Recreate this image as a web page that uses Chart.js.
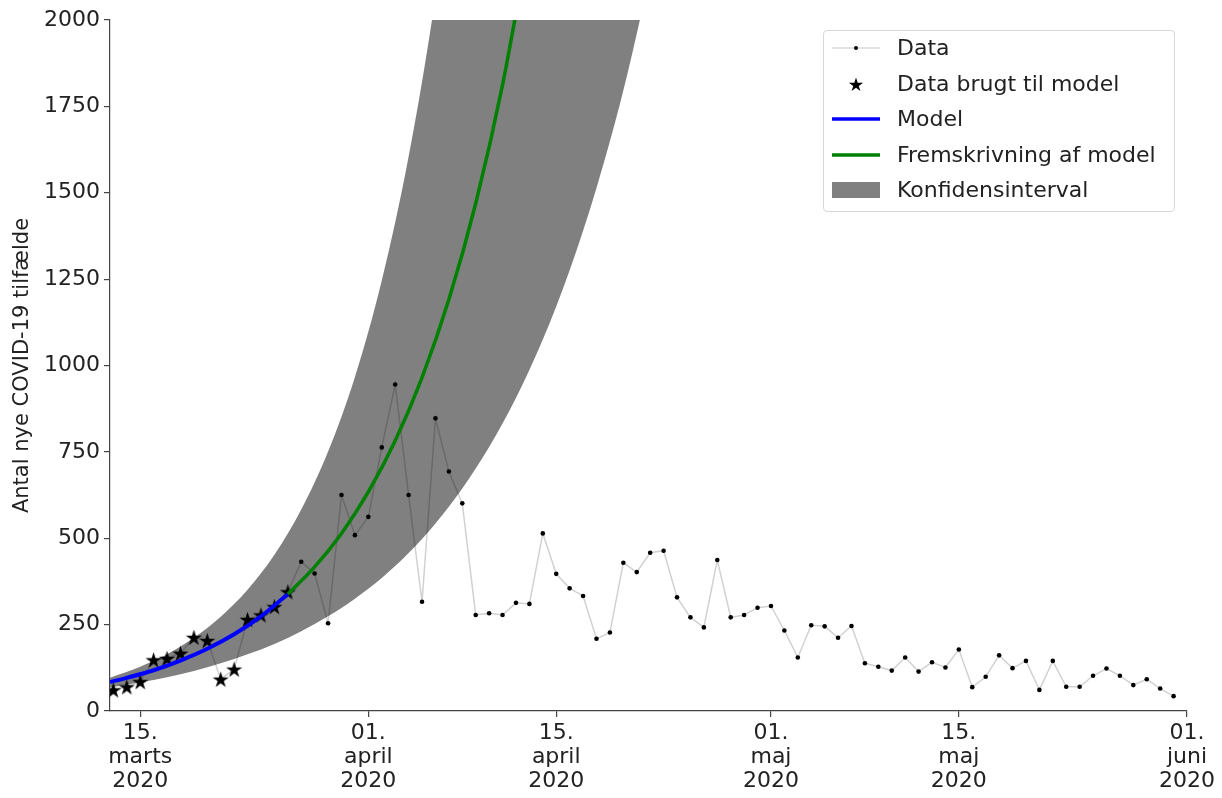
<!DOCTYPE html>
<html>
<head>
<meta charset="utf-8">
<script src="https://cdn.jsdelivr.net/npm/chart.js@4.4.0/dist/chart.umd.min.js"></script>
<style>
  body { margin: 0; background: #fff; }
  #wrap { position: relative; width: 1222px; height: 798px; }
  #legend {
    position: absolute; left: 823px; top: 30px; width: 352px; height: 182px;
    box-sizing: border-box; border: 1px solid #d8d8d8; border-radius: 4px;
    background: rgba(255,255,255,0.85);
    font-family: "DejaVu Sans"; font-size: 22px; color: #222;
  }
  .sw { position: absolute; left: 6px; }
  .lab { position: absolute; left: 73px; white-space: nowrap; line-height: 26px; }
</style>
</head>
<body>
<div id="wrap">
  <canvas id="chart" width="1222" height="798"></canvas>
  <div id="legend"></div>
</div>
<script>
// Daily new cases, 13 March .. 31 May 2020 (day 0 = 15 March)
const firstDay = -2;
const newCases = [
  61, 70, 85, 148, 152, 167, 213, 204, 92, 121, 265, 278, 302, 345, 432, 398, 254, 625, 509,
  562, 763, 945, 625, 316, 847, 693, 601, 278, 283, 278, 313, 310, 514, 397, 355, 333, 209,
  227, 429, 402, 458, 464, 329, 271, 242, 437, 271, 278, 299,
  304, 233, 155, 248, 245, 212, 246, 138, 128, 117, 155, 114, 141, 126, 178, 69, 99, 161,
  124, 145, 61, 145, 70, 70, 102, 123, 102, 75, 92, 65, 43
];
const usedForModel = 14; // 13.-26. marts

// fitted model (blue) and projection (green)
const modelDays = [-2.25, -1, 1, 3, 5, 7, 9, 11];
const modelVals = [84, 96, 118, 146, 180, 222, 274, 338];
const projDays  = [11, 13, 15, 17, 19, 21, 23, 25, 27, 29];
const projVals  = [338, 417, 514, 634, 782, 965, 1191, 1469, 1812, 2236];

// confidence band edges
const bandDays  = [-2.25, 0, 2, 4, 6, 8, 10, 12, 14, 16, 18, 20, 22, 24, 26, 28, 30, 32, 34, 36, 38];
const bandUpper = [96, 128, 164, 212, 273, 351, 452, 583, 751, 967, 1246, 1605, 2067, 2662, 3430, 4418, 5691, 7331, 9443, 12165, 15668];
const bandLower = [68, 83, 98, 116, 138, 164, 194, 231, 274, 325, 385, 457, 543, 644, 764, 906, 1075, 1276, 1514, 1796, 2131];

// x ticks
const tickDays   = [0, 17, 31, 47, 61, 78];
const tickDate   = ['15.', '01.', '15.', '01.', '15.', '01.'];
const tickMonth  = ['marts', 'april', 'april', 'maj', 'maj', 'juni'];
const tickYear   = '2020';

const FONT = 'DejaVu Sans';
const pts = (xs, ys) => xs.map((x, i) => ({ x, y: ys[i] }));

function starPath(ctx, cx, cy, R) {
  const r = R * 0.382;
  ctx.beginPath();
  for (let i = 0; i < 10; i++) {
    const a = -Math.PI / 2 + i * Math.PI / 5;
    const rad = i % 2 ? r : R;
    ctx.lineTo(cx + rad * Math.cos(a), cy + rad * Math.sin(a));
  }
  ctx.closePath();
}

function starCanvas(R) {
  const c = document.createElement('canvas');
  c.width = c.height = Math.ceil(R * 2 + 2);
  const g = c.getContext('2d');
  starPath(g, c.width / 2, c.height / 2 + R * 0.1, R);
  g.fillStyle = '#000';
  g.fill();
  return c;
}

const dataPts = newCases.map((v, i) => ({ x: firstDay + i, y: v }));

new Chart(document.getElementById('chart'), {
  type: 'line',
  data: {
    datasets: [
      { label: 'Model', data: pts(modelDays, modelVals), borderColor: '#0000ff', borderWidth: 4,
        pointRadius: 0, cubicInterpolationMode: 'monotone', fill: false },
      { label: 'Fremskrivning af model', data: pts(projDays, projVals), borderColor: '#008000', borderWidth: 3.5,
        pointRadius: 0, cubicInterpolationMode: 'monotone', fill: false },
      { label: 'Data brugt til model', data: dataPts.slice(0, usedForModel), showLine: false,
        pointStyle: starCanvas(8.5), pointRadius: 8 },
      { label: 'Data', data: dataPts, borderColor: 'rgba(0,0,0,0.18)', borderWidth: 1.5,
        pointRadius: 2.3, pointBackgroundColor: '#000', pointBorderWidth: 0, fill: false },
      { label: 'Konfidensinterval', data: pts(bandDays, bandUpper), borderWidth: 0, pointRadius: 0,
        cubicInterpolationMode: 'monotone', backgroundColor: '#808080', fill: '+1' },
      { label: 'lower', data: pts(bandDays, bandLower), borderWidth: 0, pointRadius: 0,
        cubicInterpolationMode: 'monotone', fill: false }
    ]
  },
  options: {
    responsive: false,
    animation: false,
    events: [],
    layout: { padding: { top: 20, right: 35, left: 0, bottom: 0 } },
    plugins: { legend: { display: false }, tooltip: { enabled: false } },
    scales: {
      x: {
        type: 'linear', min: -2.25, max: 78,
        afterBuildTicks: s => { s.ticks = tickDays.map(v => ({ value: v })); },
        afterFit: s => { s.height = 87; },
        ticks: {
          autoSkip: false, maxRotation: 0, padding: 5, color: '#222',
          font: { family: FONT, size: 22, lineHeight: 1.07 },
          callback: (v, i) => [tickDate[i], tickMonth[i], tickYear]
        },
        grid: { drawOnChartArea: false, tickLength: 6, color: '#444', lineWidth: 1.2 },
        border: { color: '#444', width: 1.2 }
      },
      y: {
        min: 0, max: 2000,
        afterFit: s => { s.width = 110; },
        ticks: { stepSize: 250, padding: 4, color: '#222', font: { family: FONT, size: 22 },
                 callback: v => String(v) },
        grid: { drawOnChartArea: false, tickLength: 6, color: '#444', lineWidth: 1.2 },
        border: { color: '#444', width: 1.2 },
        title: { display: true, text: 'Antal nye COVID-19 tilfælde', color: '#222',
                 font: { family: FONT, size: 21 }, padding: { top: 10, bottom: 0 } }
      }
    }
  }
});

// legend, matplotlib style
const legendItems = [
  { label: 'Data', kind: 'data' },
  { label: 'Data brugt til model', kind: 'star' },
  { label: 'Model', kind: 'line', color: '#0000ff' },
  { label: 'Fremskrivning af model', kind: 'line', color: '#008000' },
  { label: 'Konfidensinterval', kind: 'patch', color: '#808080' }
];
const legend = document.getElementById('legend');
legendItems.forEach((it, i) => {
  const cy = 17 + i * 35.5;
  const c = document.createElement('canvas');
  c.width = 52; c.height = 22; c.className = 'sw';
  c.style.top = (cy - 11) + 'px';
  const g = c.getContext('2d');
  if (it.kind === 'data') {
    g.strokeStyle = 'rgba(0,0,0,0.15)'; g.lineWidth = 1.5;
    g.beginPath(); g.moveTo(2, 11); g.lineTo(50, 11); g.stroke();
    g.fillStyle = '#000'; g.beginPath(); g.arc(26, 11, 2, 0, Math.PI * 2); g.fill();
  } else if (it.kind === 'star') {
    starPath(g, 26, 12, 7.5); g.fillStyle = '#000'; g.fill();
  } else if (it.kind === 'line') {
    g.strokeStyle = it.color; g.lineWidth = 3.5;
    g.beginPath(); g.moveTo(2, 11); g.lineTo(50, 11); g.stroke();
  } else {
    g.fillStyle = it.color; g.fillRect(2, 3, 48, 16);
  }
  legend.appendChild(c);
  const t = document.createElement('div');
  t.className = 'lab'; t.textContent = it.label;
  t.style.top = (cy - 13) + 'px';
  legend.appendChild(t);
});
</script>
</body>
</html>
